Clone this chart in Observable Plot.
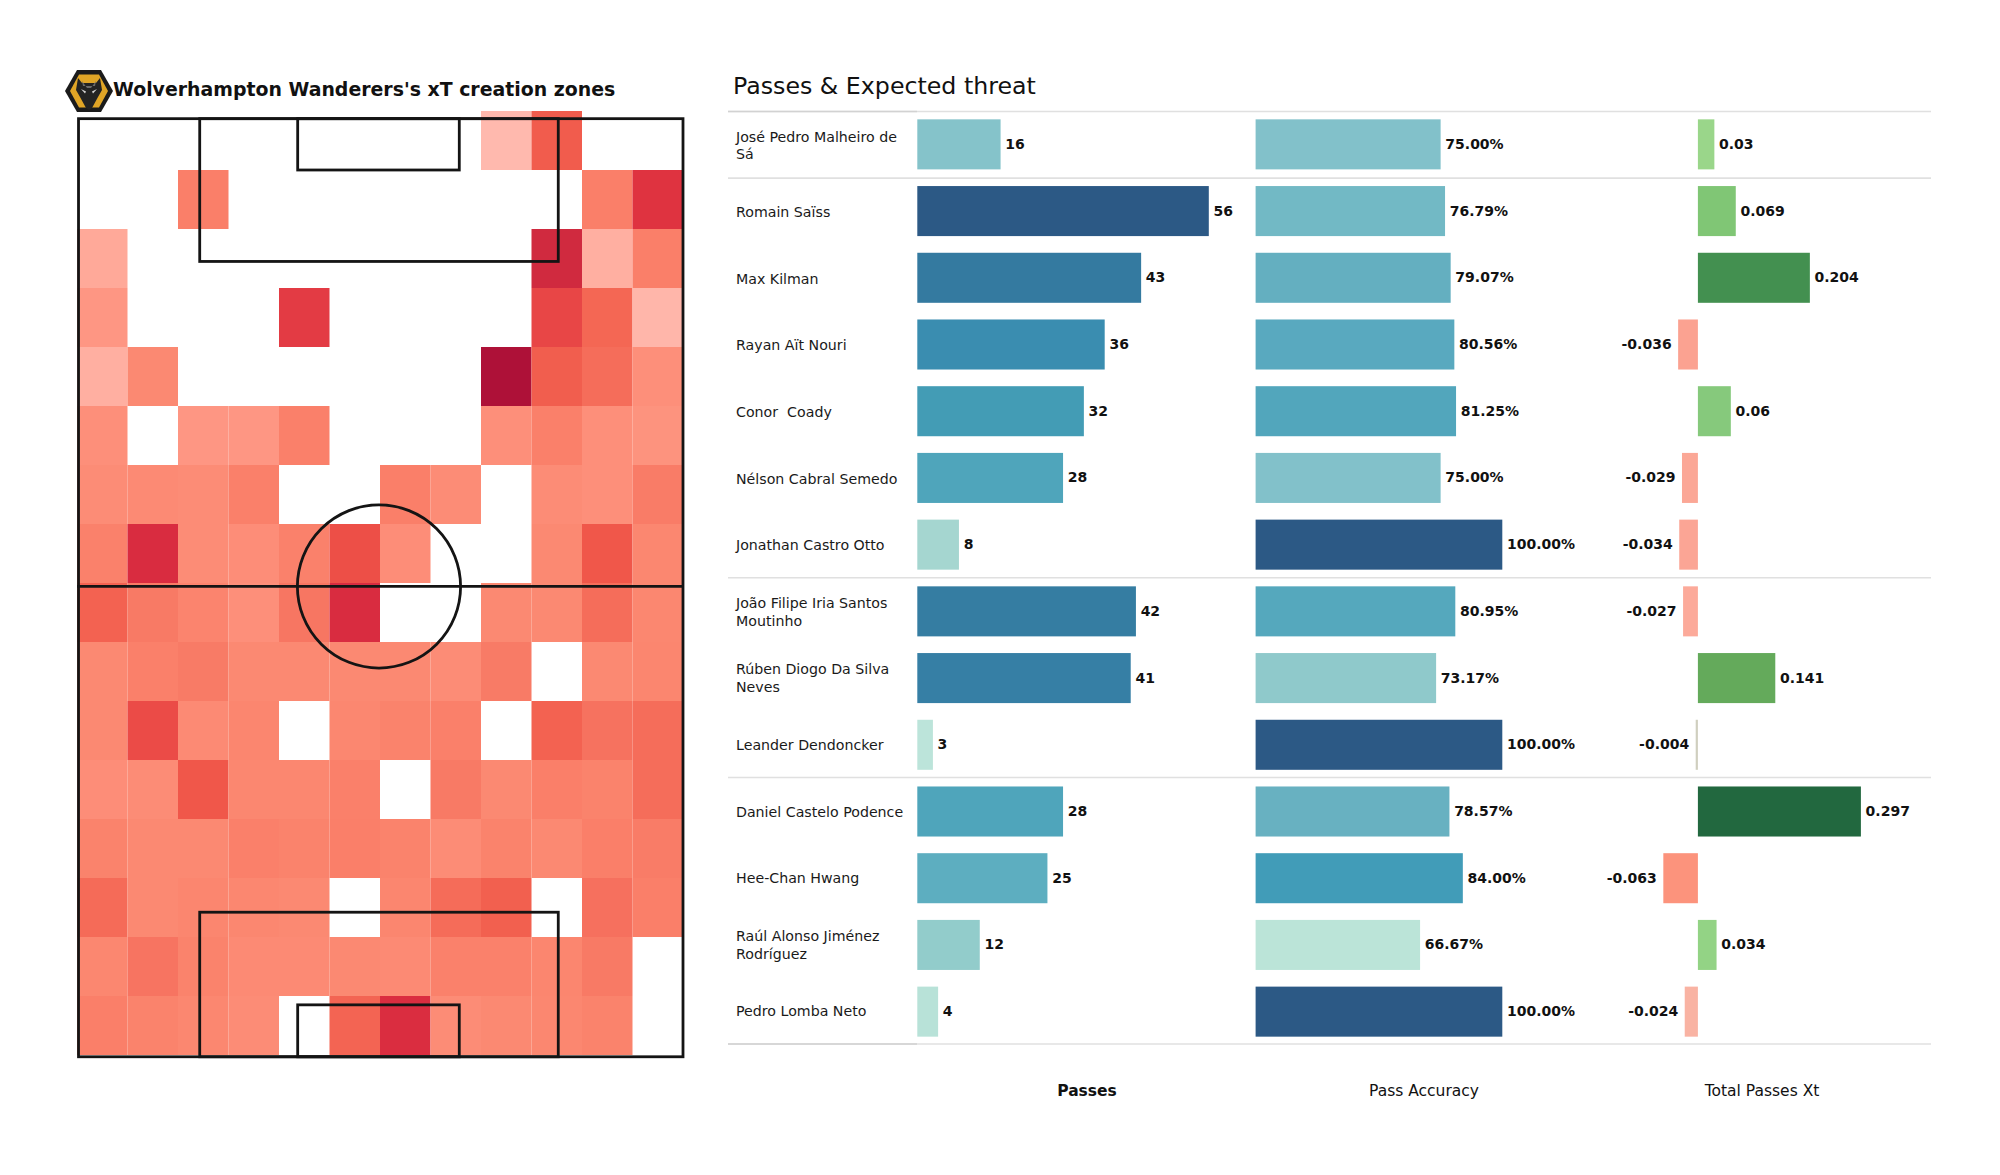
<!DOCTYPE html>
<html>
<head>
<meta charset="utf-8">
<script src="https://cdn.jsdelivr.net/npm/d3@7"></script>
<script src="https://cdn.jsdelivr.net/npm/@observablehq/plot@0.6"></script>
<style>
  html, body { margin: 0; padding: 0; background: #fff; }
  #page { position: relative; width: 2000px; height: 1175px; overflow: hidden; font-family: "DejaVu Sans", sans-serif; color: #111; }
  .label { position: absolute; white-space: pre; line-height: 1; }
</style>
</head>
<body>
<div id="page"></div>
<script>
// ---------- chart data ----------
const heatRow00 = [0,0,0,0,0,0,0,0,10,57,0,0];
const heatRow01 = [0,0,36,0,0,0,0,0,0,0,36,75];
const heatRow02 = [15,0,0,0,0,0,0,0,0,85,13,36];
const heatRow03 = [21,0,0,0,72,0,0,0,0,68,52,11];
const heatRow04 = [13,29,0,0,0,0,0,0,100,56,48,25];
const heatRow05 = [25,0,21,21,35,0,0,0,25,35,25,23];
const heatRow06 = [27,28,27,35,0,0,36,27,0,27,25,38];
const heatRow07 = [34,80,27,26,34,64,26,0,0,29,59,30];
const heatRow08 = [54,40,32,25,42,80,0,0,29,29,48,30];
const heatRow09 = [29,35,39,29,29,29,29,27,39,0,29,31];
const heatRow10 = [29,66,28,31,0,30,33,35,0,54,44,48];
const heatRow11 = [26,27,59,30,30,35,0,40,29,36,33,48];
const heatRow12 = [33,29,29,35,33,36,33,27,33,29,36,38];
const heatRow13 = [50,29,31,30,29,0,31,49,55,0,45,36];
const heatRow14 = [30,43,33,28,28,29,28,34,34,31,40,0];
const heatRow15 = [36,33,30,27,0,53,79,27,29,30,33,0];
const heatRows = [heatRow00,heatRow01,heatRow02,heatRow03,heatRow04,heatRow05,heatRow06,heatRow07,
                  heatRow08,heatRow09,heatRow10,heatRow11,heatRow12,heatRow13,heatRow14,heatRow15];

const players = [
  "José Pedro Malheiro de\nSá","Romain Saïss","Max Kilman","Rayan Aït Nouri","Conor  Coady",
  "Nélson Cabral Semedo","Jonathan Castro Otto","João Filipe Iria Santos\nMoutinho",
  "Rúben Diogo Da Silva\nNeves","Leander Dendoncker","Daniel Castelo Podence","Hee-Chan Hwang",
  "Raúl Alonso Jiménez\nRodríguez","Pedro Lomba Neto"
];
const passes   = [16,56,43,36,32,28,8,42,41,3,28,25,12,4];
const accuracy = [75.00,76.79,79.07,80.56,81.25,75.00,100.00,80.95,73.17,100.00,78.57,84.00,66.67,100.00];
const xThreat  = [0.03,0.069,0.204,-0.036,0.06,-0.029,-0.034,-0.027,0.141,-0.004,0.297,-0.063,0.034,-0.024];
const groupBreaks = [0,1,7,10,14];
const columnTitles = ["Passes","Pass Accuracy","Total Passes Xt"];

// pitch markings, in heat-map grid units (12 columns by 16 rows)
const pitchX1 = [0.03, 2.43, 4.37, 2.43, 4.37];
const pitchX2 = [12, 9.53, 7.57, 9.53, 7.57];
const pitchY1 = [0.13, 0.13, 0.13, 13.58, 15.15];
const pitchY2 = [16.03, 2.55, 1.0, 16.03, 16.03];
const halfwayRow = 8.05;
const centreColumn = 5.97;

// ---------- helpers ----------
const page = document.getElementById("page");
const font = '"DejaVu Sans", sans-serif';
const place = (svg, left, top) => {
  svg.style.position = "absolute"; svg.style.left = left + "px"; svg.style.top = top + "px";
  page.appendChild(svg);
};
const label = (text, opts) => {
  const d = document.createElement("div");
  d.className = "label"; d.textContent = text;
  Object.assign(d.style, opts);
  page.appendChild(d);
};

// ---------- heat map ----------
const heatCells = heatRows.flatMap((row, r) => row.map((v, c) => ({r, c, v}))).filter(d => d.v > 0);
const pitchBoxes = pitchX1.map((_, i) => ({x1: pitchX1[i], x2: pitchX2[i], y1: pitchY1[i], y2: pitchY2[i]}));
place(Plot.plot({
  width: 640, height: 970, margin: 0,
  style: {background: "transparent"},
  x: {domain: [0, 12], range: [17, 623], axis: null},
  y: {domain: [0, 16], range: [11, 955], axis: null},
  color: {
    type: "linear",
    domain: [10,15,20,25,30,35,40,45,50,55,60,65,70,75,80,85,100],
    range: ["#ffb9ae","#ffa999","#fe9885","#fd8f7a","#fb8770","#fa806a","#f87a65","#f6705e","#f56b58",
            "#f2604f","#ef5549","#ec4e47","#e64146","#df3340","#d92c40","#d02a3f","#ae1138"]
  },
  marks: [
    Plot.rect(heatCells, {x1: "c", x2: d => d.c + 1, y1: "r", y2: d => d.r + 1, fill: "v"}),
    Plot.rect(pitchBoxes, {x1: "x1", x2: "x2", y1: "y1", y2: "y2", fill: "none", stroke: "#141414", strokeWidth: 2.8}),
    Plot.ruleY([halfwayRow], {x1: 0, x2: 12, stroke: "#141414", strokeWidth: 2.8}),
    Plot.dot([{x: centreColumn, y: halfwayRow}], {x: "x", y: "y", r: 81.6, fill: "none", stroke: "#141414", strokeWidth: 2.8})
  ]
}), 60, 100);

// ---------- table rules and names ----------
place(Plot.plot({
  width: 1203, height: 960, margin: 0,
  style: {background: "transparent", whiteSpace: "pre"},
  x: {domain: [0, 1203], range: [0, 1203], axis: null},
  y: {domain: [0, 14], range: [10, 942.5], axis: null},
  marks: [
    Plot.ruleY(groupBreaks, {stroke: "#e0e0e0", strokeWidth: 1.6}),
    Plot.ruleY([groupBreaks[0], groupBreaks[4]], {x1: 0, x2: 189, stroke: "#d2d2d2", strokeWidth: 1.6}),
    Plot.text(players, {
      x: 0, y: (d, i) => i + 0.5, text: d => d, dx: 7.5, dy: 0, textAnchor: "start", lineHeight: 1.25,
      fontSize: 14.2, fontFamily: font, fill: "#1a1a1a"
    })
  ]
}), 728, 101);

// ---------- bar columns ----------
const rowBand = {domain: players, range: [111, 1045], round: false, paddingInner: 0.25, paddingOuter: 0.125, axis: null};
const barColumn = ({values, left, width, xDomain, xRange, colorDomain, colorRange, format}) => {
  const rows = values.map((v, i) => ({player: players[i], v}));
  place(Plot.plot({
    width, height: 1175, margin: 0,
    style: {background: "transparent"},
    x: {domain: xDomain, range: xRange, axis: null},
    y: rowBand,
    color: {type: "linear", domain: colorDomain, range: colorRange},
    marks: [
      Plot.barX(rows, {x1: 0, x2: "v", y: "player", fill: "v"}),
      Plot.text(rows.filter(d => d.v >= 0), {
        x: "v", y: "player", text: d => format(d.v), dx: 4.2, dy: -0.5, textAnchor: "start",
        fontSize: 14, fontWeight: "bold", fontFamily: font, fill: "#111"
      }),
      Plot.text(rows.filter(d => d.v < 0), {
        x: "v", y: "player", text: d => format(d.v), dx: -7, dy: -0.5, textAnchor: "end",
        fontSize: 14, fontWeight: "bold", fontFamily: font, fill: "#111"
      })
    ]
  }), left, 0);
};

barColumn({
  values: passes, left: 900, width: 340, xDomain: [0, 56], xRange: [17.3, 308.8],
  colorDomain: [3,4,8,12,16,25,28,32,36,43,56],
  colorRange: ["#bce4da","#b8e2d8","#a5d6d0","#92cccb","#85c3ca","#5daec0","#4fa5bb","#439cb5","#3a8db0","#347aa0","#2c5985"],
  format: d => String(d)
});
barColumn({
  values: accuracy, left: 1240, width: 340, xDomain: [0, 100], xRange: [15.6, 262.3],
  colorDomain: [66.67,73.17,75,76.79,78.57,79.07,80.56,80.95,81.25,84,100],
  colorRange: ["#bbe4d8","#8fc9cb","#82c1ca","#72b9c5","#68b1c1","#64afc0","#59a9bf","#55a8bd","#52a6bc","#419cb8","#2c5985"],
  format: d => d.toFixed(2) + "%"
});
barColumn({
  values: xThreat, left: 1580, width: 360, xDomain: [0, 0.297], xRange: [117.9, 280.9],
  colorDomain: [-0.063,-0.036,-0.034,-0.029,-0.027,-0.024,-0.004,0.03,0.034,0.06,0.069,0.141,0.204,0.297],
  colorRange: ["#fc937c","#fba291","#fba595","#fba796","#fcaa9a","#f9b3a3","#d0cfbf","#9ad68a","#93d385","#86c97c","#80c675","#64aa5b","#439050","#22683f"],
  format: d => String(d)
});

// ---------- titles ----------
label("Wolverhampton Wanderers's xT creation zones", {left: "113px", top: "80px", fontSize: "18.9px", fontWeight: "bold"});
label("Passes & Expected threat", {left: "733px", top: "74.5px", fontSize: "23.7px"});
label(columnTitles[0], {left: "1087px", top: "1083.5px", fontSize: "15.5px", fontWeight: "bold", transform: "translateX(-50%)"});
label(columnTitles[1], {left: "1424px", top: "1083.5px", fontSize: "15.5px", transform: "translateX(-50%)"});
label(columnTitles[2], {left: "1762px", top: "1083.5px", fontSize: "15.5px", transform: "translateX(-50%)"});

// ---------- club badge ----------
page.insertAdjacentHTML("beforeend", `
<svg width="56" height="50" viewBox="0 0 56 50" style="position:absolute;left:61px;top:66px">
  <polygon points="4,25 16,4 40,4 52,25 40,46 16,46" fill="#1b1b1b"/>
  <polygon points="9,25 18,8.5 38,8.5 47,25 38,41.5 18,41.5" fill="#e0a526"/>
  <polygon points="17,12 21,17 35,17 39,12 41,24 37,31 31,42 28,44 25,42 19,31 15,24" fill="#232323"/>
  <polygon points="20,23 25,25.5 24,27.5" fill="#d8d8d8"/>
  <polygon points="36,23 31,25.5 32,27.5" fill="#d8d8d8"/>
  <polygon points="21,15 26,22 30,22 35,15 34,20 22,20" fill="#6b6b6b"/>
</svg>`);
</script>
</body>
</html>
